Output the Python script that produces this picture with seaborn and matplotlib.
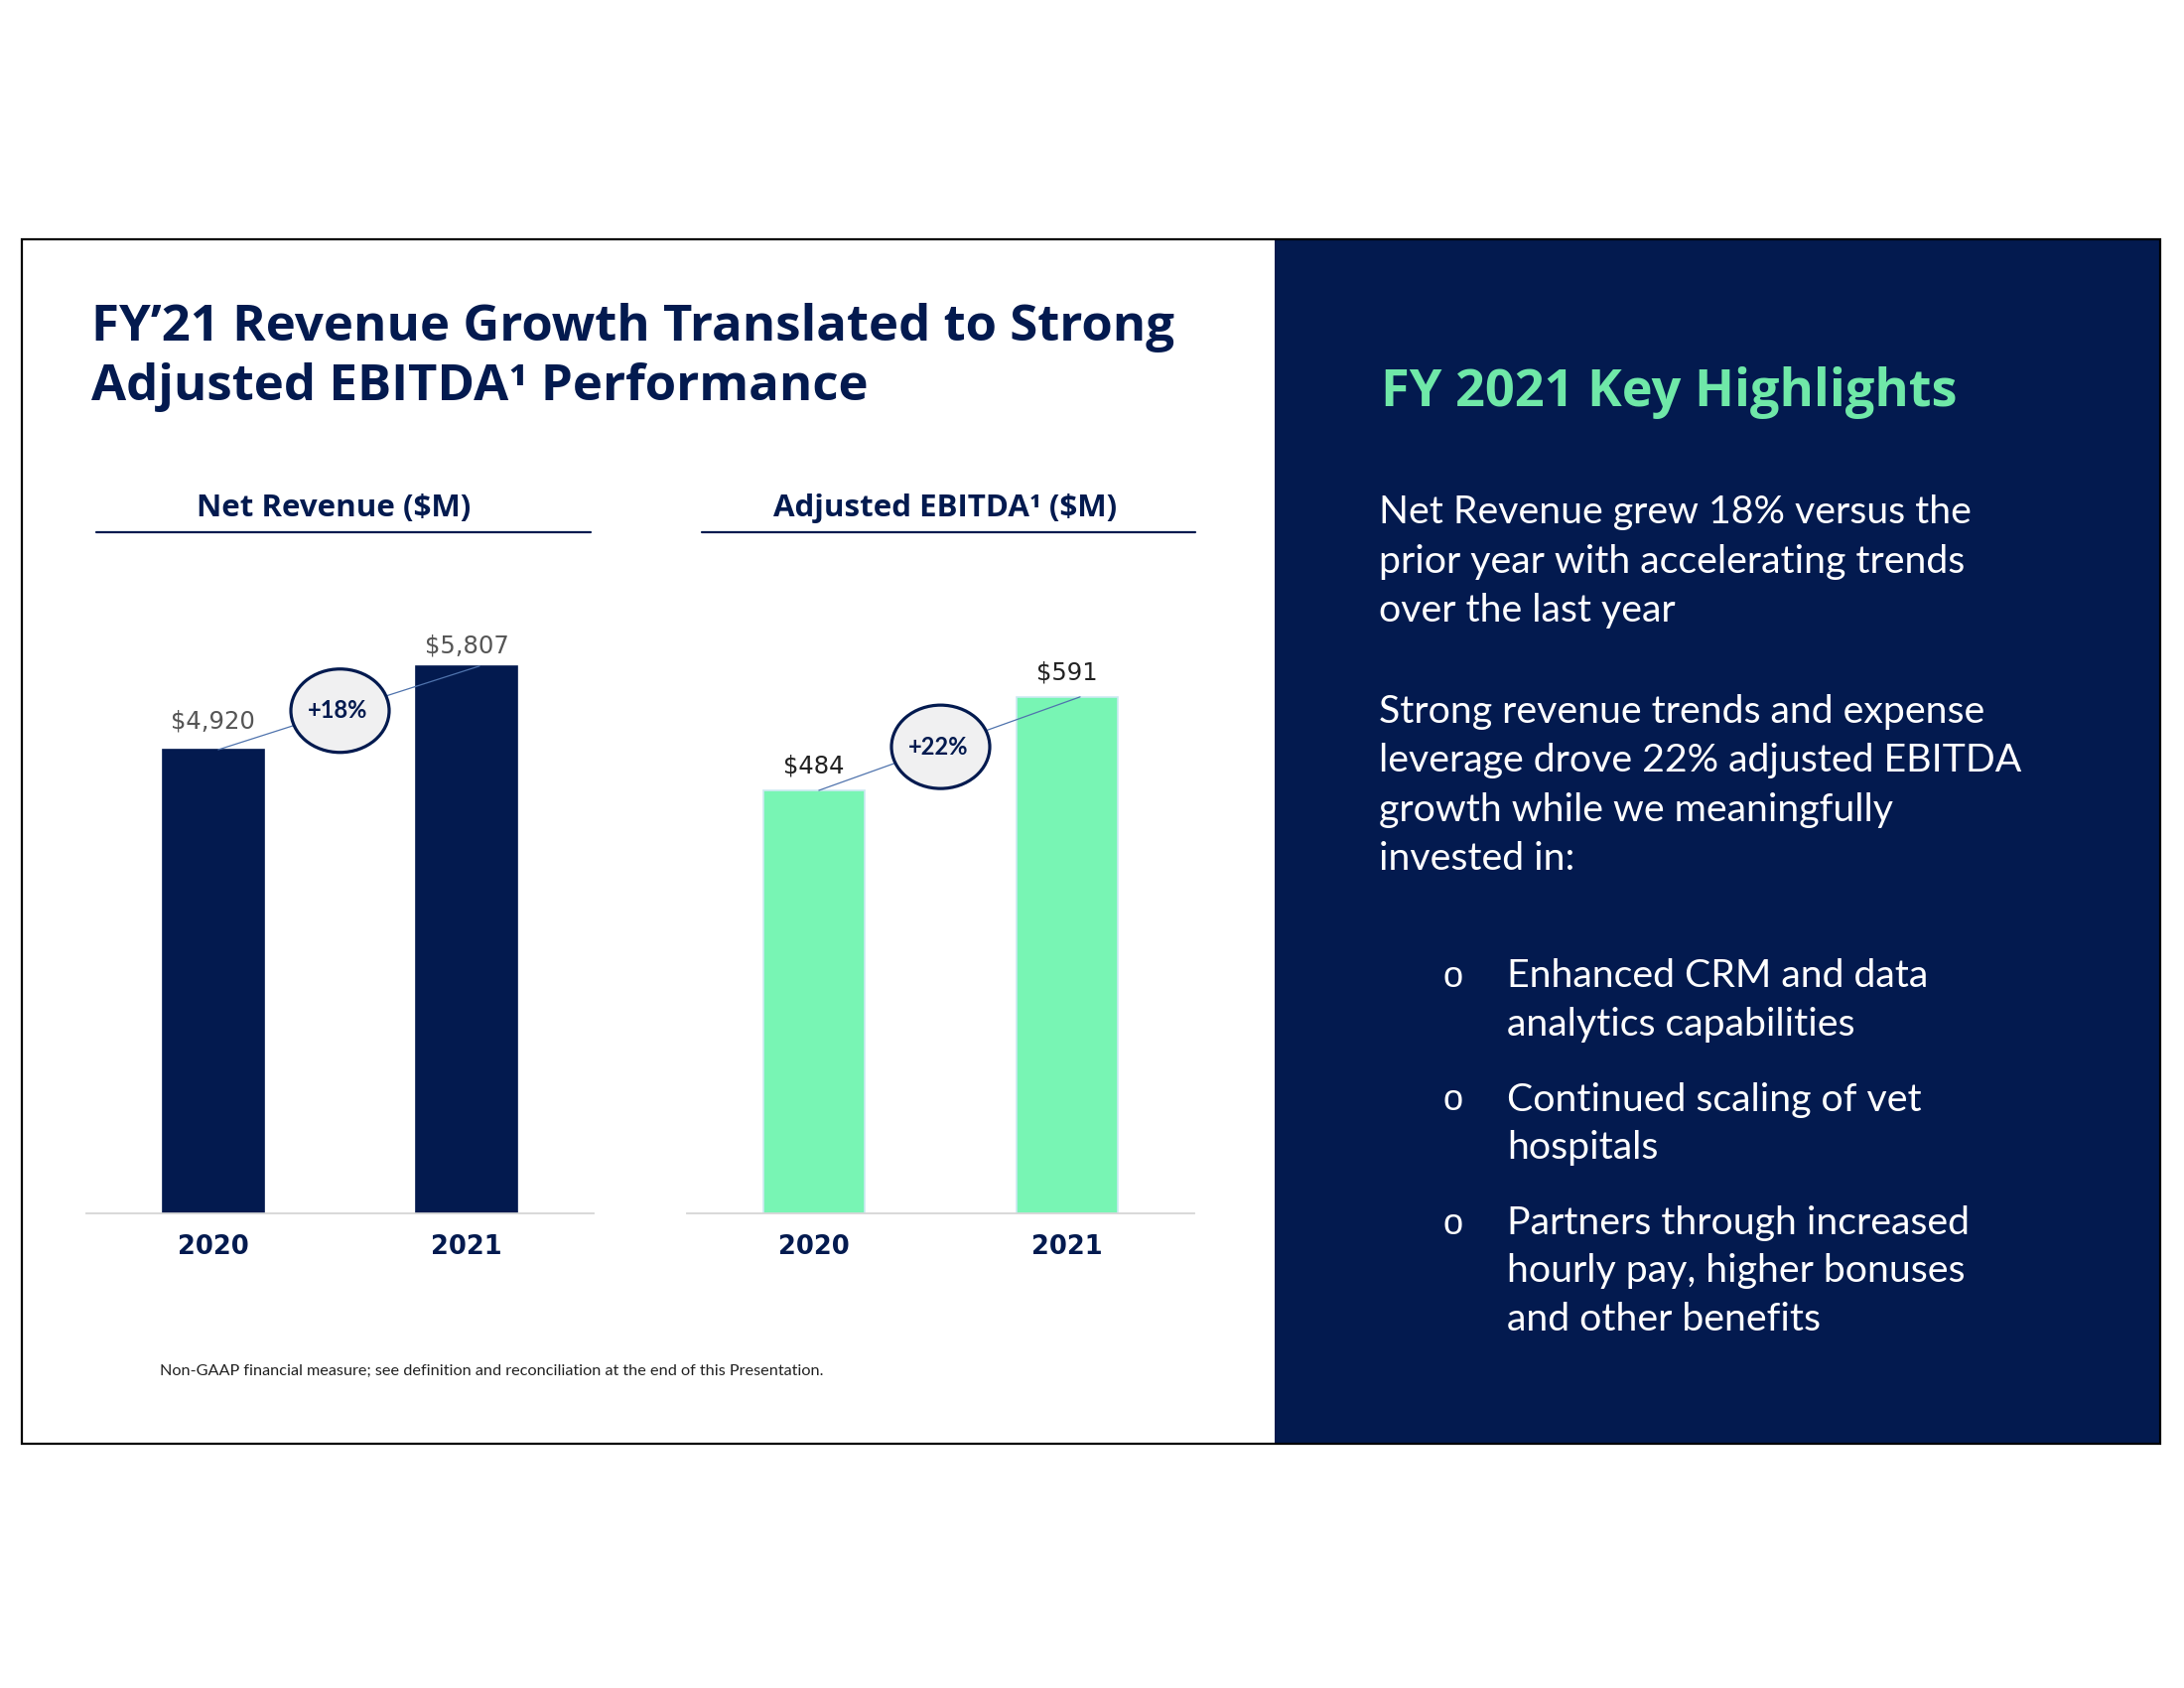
import matplotlib
matplotlib.use("Agg")
import matplotlib.pyplot as plt
from matplotlib.patches import Ellipse, Rectangle
from matplotlib.lines import Line2D
import seaborn as sns
import pandas as pd

# ---------------- data ----------------
years = ["2020", "2021"]
net_revenue = [4920, 5807]
adj_ebitda = [484, 591]
revenue_labels = ["$4,920", "$5,807"]
ebitda_labels = ["$484", "$591"]

title_lines = ["FY\u201921 Revenue Growth Translated to Strong",
               "Adjusted EBITDA\u00b9 Performance"]
chart_titles = ["Net Revenue ($M)", "Adjusted EBITDA\u00b9 ($M)"]
footnote = "Non-GAAP financial measure; see definition and reconciliation at the end of this Presentation."
panel_title = "FY 2021 Key Highlights"
paragraph_1 = ["Net Revenue grew 18% versus the",
               "prior year with accelerating trends",
               "over the last year"]
paragraph_2 = ["Strong revenue trends and expense",
               "leverage drove 22% adjusted EBITDA",
               "growth while we meaningfully",
               "invested in:"]
bullets = [["Enhanced CRM and data", "analytics capabilities"],
           ["Continued scaling of vet", "hospitals"],
           ["Partners through increased", "hourly pay, higher bonuses",
            "and other benefits"]]

# ---------------- style ----------------
NAVY = "#031A4F"
MINT = "#78F5B4"
GREEN = "#6FE8A8"
W, H = 2200, 1700
HEAD_FONT = ["Open Sans", "Lato", "DejaVu Sans"]

sns.set_theme(style="white")
plt.rcParams["font.family"] = ["Lato", "DejaVu Sans"]

fig = plt.figure(figsize=(22, 17), dpi=100)
fig.patch.set_facecolor("white")


def fx(x):
    return x / W


def fy(y):
    return 1 - y / H


# slide frame and dark panel
fig.add_artist(Rectangle((fx(1284), fy(1454)), fx(2176) - fx(1284), (1454 - 241) / H,
                         transform=fig.transFigure, facecolor=NAVY, edgecolor="none", zorder=0))
fig.add_artist(Rectangle((fx(22), fy(1454)), fx(2176) - fx(22), (1454 - 241) / H,
                         transform=fig.transFigure, facecolor="none", edgecolor="black",
                         linewidth=1.6, zorder=5))

# title
for i, line in enumerate(title_lines):
    fig.text(fx(92), fy(343 + i * 60), line, fontsize=36.6, fontweight="bold",
             family=HEAD_FONT, color=NAVY, va="baseline", ha="left")


def bar_panel(left, right, top_px, base_px, values, labels, color, edge, ymax,
              label_color, label_offsets, title, title_x, ul_left, ul_right):
    ax = fig.add_axes([fx(left), fy(base_px), fx(right) - fx(left), (base_px - top_px) / H])
    ax.set_facecolor("none")
    df = pd.DataFrame({"year": years, "value": values})
    sns.barplot(data=df, x="year", y="value", color=color, saturation=1, width=0.4,
                edgecolor=edge, linewidth=1.2, ax=ax)
    ax.set_ylim(0, ymax)
    ax.set_xlim(-0.5, 1.5)
    ax.set_xlabel("")
    ax.set_ylabel("")
    ax.set_yticks([])
    for s in ["left", "right", "top"]:
        ax.spines[s].set_visible(False)
    ax.spines["bottom"].set_color("#d5d5d5")
    ax.spines["bottom"].set_linewidth(1.3)
    ax.tick_params(axis="x", length=0, pad=15)
    for t in ax.get_xticklabels():
        t.set_fontfamily("DejaVu Sans")
        t.set_fontweight("bold")
        t.set_fontsize(18.5)
        t.set_color(NAVY)

    # value labels
    for i, (v, lab) in enumerate(zip(values, labels)):
        ax.annotate(lab, (i, v), xytext=(0, label_offsets[i] * 72 / 100),
                    textcoords="offset points", ha="center", va="baseline",
                    fontfamily="DejaVu Sans", fontsize=17.5, color=label_color)

    # connector + growth ellipse
    px_per_y = (base_px - top_px) / ymax
    px_per_x = (right - left) / 2.0
    x0, x1 = 0.02, 1.05
    ax.add_line(Line2D([x0, x1], [values[0], values[1]], color="#4f73ad",
                       linewidth=0.9, zorder=4))
    ex = 0.5
    ey = values[0] + (values[1] - values[0]) * (ex - x0) / (x1 - x0)
    ax.add_patch(Ellipse((ex, ey), 99 / px_per_x, 84 / px_per_y, facecolor="#f0f0f1",
                         edgecolor=NAVY, linewidth=2.3, zorder=5, clip_on=False))
    pct = round((values[1] / values[0] - 1) * 100)
    ax.text(ex - 0.01, ey, f"+{pct}%", ha="center", va="center", fontsize=17,
            fontweight="bold", color=NAVY, zorder=6)

    # panel heading with underline
    fig.text(fx(title_x), fy(520), title, ha="center", va="baseline", fontsize=22.5,
             fontweight="bold", family=HEAD_FONT, color=NAVY)
    fig.add_artist(Line2D([fx(ul_left), fx(ul_right)], [fy(536), fy(536)],
                          transform=fig.transFigure, color=NAVY, linewidth=1.6))
    return ax


bar_panel(87, 598, 1222 - 7000 / 10.535, 1222, net_revenue, revenue_labels, NAVY, NAVY,
          7000, "#555555", [21, 13], chart_titles[0], 336, 97, 595)
bar_panel(692, 1203, 1222 - 750 / 1.1362, 1222, adj_ebitda, ebitda_labels, MINT, "#cde9f2",
          750, "#222222", [18, 17], chart_titles[1], 952, 707, 1204)

# footnote
fig.text(fx(161), fy(1385), footnote, ha="left", va="baseline", fontsize=11.7, color="#222222")

# right panel text
fig.text(fx(1391), fy(409), panel_title, ha="left", va="baseline", fontsize=37.6,
         fontweight="bold", family=HEAD_FONT, color=GREEN)

for i, line in enumerate(paragraph_1):
    fig.text(fx(1389), fy(527 + i * 49.5), line, ha="left", va="baseline", fontsize=28.3,
             color="white")
for i, line in enumerate(paragraph_2):
    fig.text(fx(1389), fy(728 + i * 49.5), line, ha="left", va="baseline", fontsize=28.3,
             color="white")

for g, group in enumerate(bullets):
    base = 994 + g * 124.5
    fig.text(fx(1464), fy(base), "o", ha="center", va="baseline", fontsize=26,
             family=["Liberation Sans", "DejaVu Sans"], color="white")
    for i, line in enumerate(group):
        fig.text(fx(1518), fy(base + i * 48.5), line, ha="left", va="baseline",
                 fontsize=28.3, color="white")

fig.savefig("out.png", dpi=100)
